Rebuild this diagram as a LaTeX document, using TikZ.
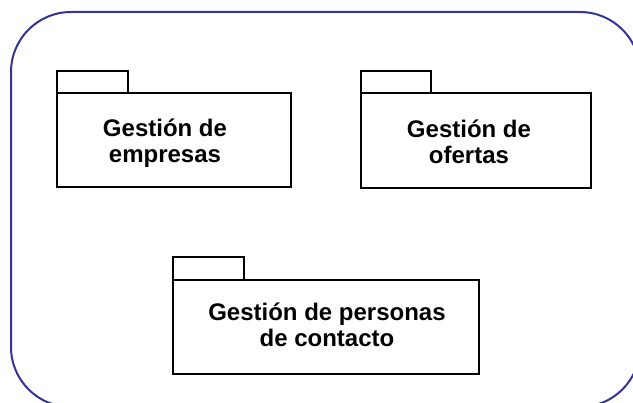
\documentclass[tikz,border=0pt]{standalone}
\usepackage{fontspec}
\setmainfont{Liberation Sans}
\definecolor{frameblue}{HTML}{333399}
\begin{document}
\begin{tikzpicture}[x=1pt,y=-1pt,
  frame/.style={draw=frameblue,line width=2pt,rounded corners=60pt},
  pkg/.style={draw=black,line width=1.8pt,fill=white},
  lbl/.style={anchor=base,align=center,font=\fontsize{24}{26}\selectfont\bfseries}]
\useasboundingbox (0,0) rectangle (633,403);
\clip (0,0) rectangle (633,403);
\draw[frame] (11,12) rectangle (640,407);
% package 1
\draw[pkg] (57,71) rectangle (128,93);
\draw[pkg] (57,93) rectangle (291,187);
\node[lbl] (p1) at (165,163) {Gestión de\\empresas};
% package 2
\draw[pkg] (361,71) rectangle (431,93);
\draw[pkg] (361,93) rectangle (591,188);
\node[lbl] (p2) at (469,164) {Gestión de\\ofertas};
% package 3
\draw[pkg] (173,257) rectangle (244,280);
\draw[pkg] (173,280) rectangle (479,374);
\node[lbl] (p3) at (327,347) {Gestión de personas\\de contacto};
\end{tikzpicture}
\end{document}
